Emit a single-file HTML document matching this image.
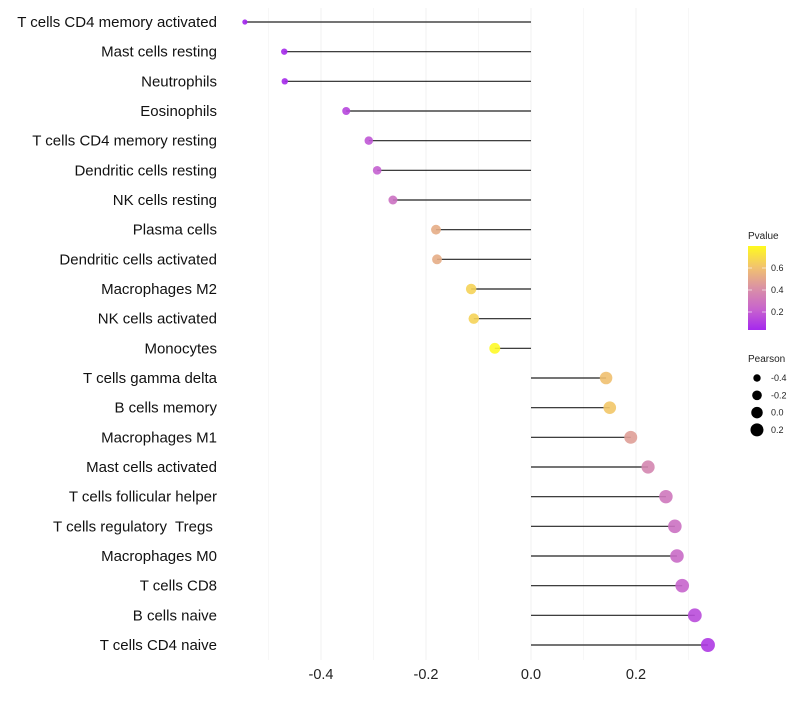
<!DOCTYPE html>
<html><head><meta charset="utf-8"><style>
body{margin:0;background:#fff;font-family:"Liberation Sans",sans-serif}
</style></head><body>
<svg id="chart" width="800" height="700" xmlns="http://www.w3.org/2000/svg" font-family="Liberation Sans, sans-serif"></svg>
<script>
const categories=["T cells CD4 memory activated","Mast cells resting","Neutrophils","Eosinophils","T cells CD4 memory resting","Dendritic cells resting","NK cells resting","Plasma cells","Dendritic cells activated","Macrophages M2","NK cells activated","Monocytes","T cells gamma delta","B cells memory","Macrophages M1","Mast cells activated","T cells follicular helper","T cells regulatory  Tregs ","Macrophages M0","T cells CD8","B cells naive","T cells CD4 naive"];
const pearson=[-0.545,-0.470,-0.469,-0.352,-0.309,-0.293,-0.263,-0.181,-0.179,-0.114,-0.109,-0.069,0.143,0.150,0.190,0.223,0.257,0.274,0.278,0.288,0.312,0.337];
const pvalue=[0.01,0.03,0.03,0.12,0.17,0.2,0.27,0.52,0.52,0.66,0.66,0.78,0.6,0.62,0.46,0.36,0.3,0.27,0.25,0.22,0.14,0.08];
const xTicks=[-0.4,-0.2,0.0,0.2];
const xTickLabels=["-0.4","-0.2","0.0","0.2"];
const minorTicks=[-0.5,-0.3,-0.1,0.1,0.3];
const pLegend=[0.6,0.4,0.2];
const sizeLegend=[-0.4,-0.2,0.0,0.2];

const svg=document.getElementById('chart');
const NS="http://www.w3.org/2000/svg";
function x(v){return 531+525*v;}
function y(i){return 22+i*(623/21);}
function r(p){return Math.sqrt(Math.max(1.5,(p+0.684)*48));}
const stops=[[0.0,[160,32,240]],[0.2,[196,96,208]],[0.4,[216,144,168]],[0.6,[240,192,112]],[0.8,[255,255,32]]];
function col(p){for(let i=1;i<stops.length;i++){if(p<=stops[i][0]){const a=stops[i-1],b=stops[i];const t=(p-a[0])/(b[0]-a[0]);const c=a[1].map((v,k)=>Math.round(v+(b[1][k]-v)*t));return `rgb(${c})`;}}return 'rgb(255,255,32)';}
function el(t,a,p){const e=document.createElementNS(NS,t);for(const k in a)e.setAttribute(k,a[k]);(p||svg).appendChild(e);return e;}

minorTicks.forEach(v=>{const l=el('line',{x1:x(v),x2:x(v),y1:8,y2:660,stroke:'#f7f7f7','stroke-width':1});

});
xTicks.forEach((v,i)=>{const l=el('line',{x1:x(v),x2:x(v),y1:8,y2:660,stroke:'#f0f0f0','stroke-width':1});


const t=el('text',{x:x(v),y:679,'text-anchor':'middle','font-size':14.5,fill:'#222'});t.textContent=xTickLabels[i];

});

categories.forEach((c,i)=>{
const t=el('text',{x:217,y:y(i)+5,'text-anchor':'end','font-size':15,fill:'#111',style:'white-space:pre'});t.textContent=c;


const l=el('line',{x1:x(0),x2:x(pearson[i]),y1:y(i),y2:y(i),stroke:'#222','stroke-width':1.2});


const d=el('circle',{cx:x(pearson[i]),cy:y(i),r:r(pearson[i]),fill:col(pvalue[i]),'fill-opacity':0.9});


});

const defs=el('defs',{});const g=el('linearGradient',{id:'pg',x1:0,y1:1,x2:0,y2:0},defs);
[[0,'rgb(165,40,238)'],[0.25,'rgb(200,100,205)'],[0.5,'rgb(218,145,165)'],[0.75,'rgb(242,195,110)'],[1,'rgb(255,250,30)']].forEach(s=>el('stop',{offset:s[0],'stop-color':s[1]},g));
const tt=el('text',{x:748,y:239,'font-size':10,fill:'#222'});tt.textContent='Pvalue';


const cb=el('rect',{x:748,y:246,width:18,height:84,fill:'url(#pg)'});


pLegend.forEach(v=>{const yy=312-(v-0.2)/0.2*22;
el('line',{x1:748,x2:752,y1:yy,y2:yy,stroke:'#fff','stroke-opacity':0.6});el('line',{x1:762,x2:766,y1:yy,y2:yy,stroke:'#fff','stroke-opacity':0.6});
const t=el('text',{x:771,y:yy+3,'font-size':9,fill:'#222'});t.textContent=v.toFixed(1);

});
const st=el('text',{x:748,y:362,'font-size':10,fill:'#222'});st.textContent='Pearson';


sizeLegend.forEach((v,i)=>{const yy=378+i*17.3;
const c=el('circle',{cx:757,cy:yy,r:r(v),fill:'#000'});


const t=el('text',{x:771,y:yy+3,'font-size':9,fill:'#222'});t.textContent=v.toFixed(1);

});
</script>
</body></html>
